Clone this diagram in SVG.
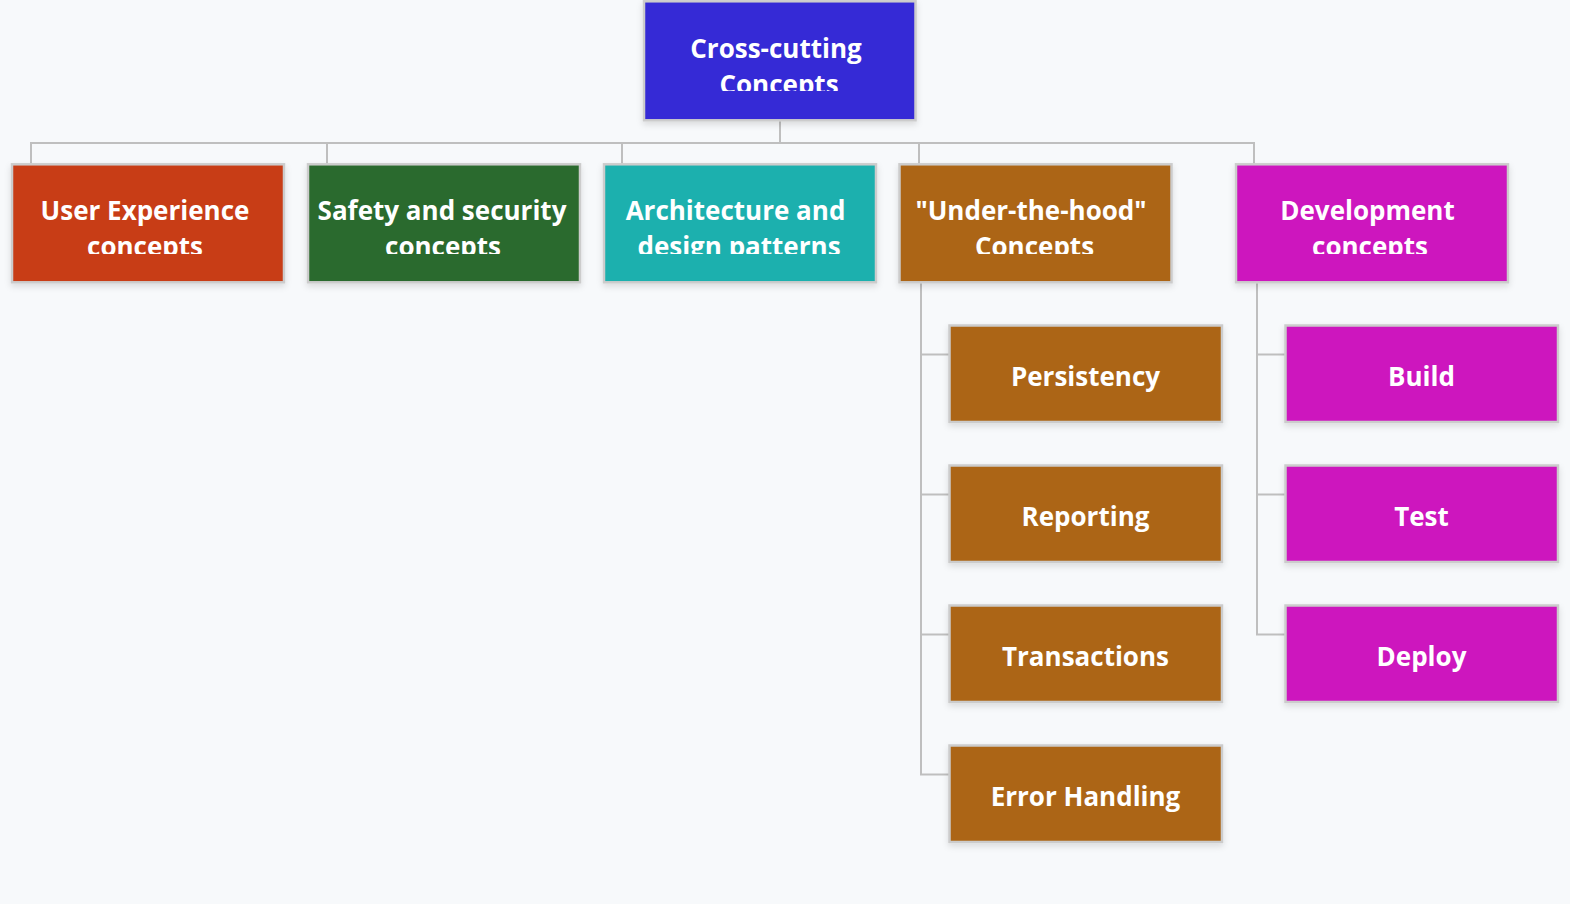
<svg xmlns="http://www.w3.org/2000/svg" width="1570" height="904" viewBox="0 0 1570 904">
<style>
.box{stroke:#cccccc;stroke-width:2.5;filter:url(#sh)}
.t{font-family:"Open Sans","Noto Sans","Liberation Sans",sans-serif;font-weight:bold;font-size:26px;fill:#ffffff;text-anchor:middle}
.c{fill:none;stroke:#bfbfbf;stroke-width:2}
</style>
<defs>
<filter id="sh" x="-10%" y="-10%" width="120%" height="130%">
<feDropShadow dx="0" dy="3" stdDeviation="3" flood-color="#000" flood-opacity="0.12"/>
</filter>
<clipPath id="cr"><rect x="643" y="20" width="273" height="71"/></clipPath>
<clipPath id="c1"><rect x="11" y="183" width="274" height="71"/></clipPath>
<clipPath id="c2"><rect x="307" y="183" width="274" height="71"/></clipPath>
<clipPath id="c3"><rect x="602" y="183" width="274" height="71"/></clipPath>
<clipPath id="c4"><rect x="898" y="183" width="274" height="71"/></clipPath>
<clipPath id="c5"><rect x="1234" y="183" width="274" height="71"/></clipPath>
</defs>
<rect x="0" y="0" width="1570" height="904" fill="#f7f9fb"/>
<g id="connectors">
<path class="c" d="M780 121 V143 M31 164 V143 H1254 V164 M327 143 V164 M622 143 V164 M919 143 V164"/>
<path class="c" d="M921 283 V774 M920 354.5 H949 M920 494.5 H949 M920 634.5 H949 M920 774.5 H949"/>
<path class="c" d="M1257 283 V634 M1256 354.5 H1285 M1256 494.5 H1285 M1256 634.5 H1285"/>
</g>
<g id="root">
<rect class="box" x="644" y="1.3" width="271.5" height="119" fill="#342bd6"/>
<g clip-path="url(#cr)"><text class="t" x="776" y="58">Cross-cutting</text><text class="t" x="779" y="94">Concepts</text></g>
</g>
<g id="ux">
<rect class="box" x="12" y="164.3" width="272" height="118" fill="#c83c18"/>
<g clip-path="url(#c1)"><text class="t" x="145" y="220">User Experience</text><text class="t" x="145" y="256">concepts</text></g>
</g>
<g id="safety">
<rect class="box" x="308" y="164.3" width="272" height="118" fill="#2a6b2e"/>
<g clip-path="url(#c2)"><text class="t" x="442" y="220">Safety and security</text><text class="t" x="443" y="256">concepts</text></g>
</g>
<g id="arch">
<rect class="box" x="604" y="164.3" width="272" height="118" fill="#1bb0ae"/>
<g clip-path="url(#c3)"><text class="t" x="735.5" y="220">Architecture and</text><text class="t" x="739" y="256">design patterns</text></g>
</g>
<g id="hood">
<rect class="box" x="899.5" y="164.3" width="272" height="118" fill="#ac6516"/>
<g clip-path="url(#c4)"><text class="t" x="1031" y="220">"Under-the-hood"</text><text class="t" x="1034.5" y="256">Concepts</text></g>
</g>
<g id="dev">
<rect class="box" x="1236" y="164.3" width="272" height="118" fill="#cd14be"/>
<g clip-path="url(#c5)"><text class="t" x="1367.5" y="220">Development</text><text class="t" x="1370" y="256">concepts</text></g>
</g>
<g id="persistency">
<rect class="box" x="949.5" y="325.5" width="272.5" height="96.5" fill="#ac6516"/>
<text class="t" x="1085.5" y="386">Persistency</text>
</g>
<g id="reporting">
<rect class="box" x="949.5" y="465.5" width="272.5" height="96.5" fill="#ac6516"/>
<text class="t" x="1085.5" y="526">Reporting</text>
</g>
<g id="transactions">
<rect class="box" x="949.5" y="605.5" width="272.5" height="96.5" fill="#ac6516"/>
<text class="t" x="1085.5" y="666">Transactions</text>
</g>
<g id="errorhandling">
<rect class="box" x="949.5" y="745.5" width="272.5" height="96.5" fill="#ac6516"/>
<text class="t" x="1085.5" y="806">Error Handling</text>
</g>
<g id="build">
<rect class="box" x="1285.5" y="325.5" width="272.5" height="96.5" fill="#cd14be"/>
<text class="t" x="1421.5" y="386">Build</text>
</g>
<g id="test">
<rect class="box" x="1285.5" y="465.5" width="272.5" height="96.5" fill="#cd14be"/>
<text class="t" x="1421.5" y="526">Test</text>
</g>
<g id="deploy">
<rect class="box" x="1285.5" y="605.5" width="272.5" height="96.5" fill="#cd14be"/>
<text class="t" x="1421.5" y="666">Deploy</text>
</g>
</svg>
